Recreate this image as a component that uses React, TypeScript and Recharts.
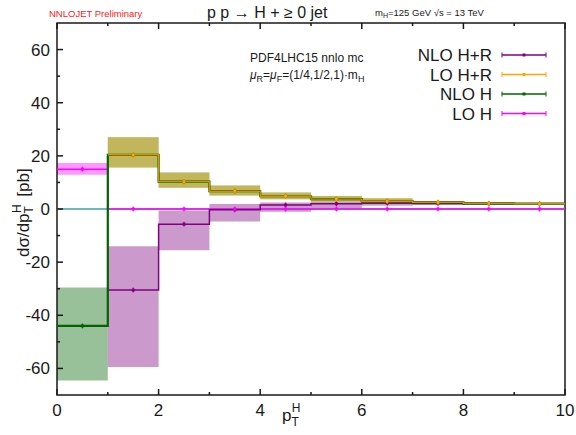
import React from 'react';
import {
  ComposedChart,
  Area,
  Line,
  Scatter,
  XAxis,
  YAxis,
  ReferenceLine,
  ReferenceArea,
} from 'recharts';

// bins in pT^H (GeV), width 1
const binEdges = [0, 1, 2, 3, 4, 5, 6, 7, 8, 9, 10];

// NLO H+R (purple)
const nloHR = [null, -30.5, -5.7, -0.3, 1.5, 2.0, 2.2, 2.1, 2.0, 2.0];
const nloHRLow = [null, -59.5, -15.5, -4.7, -1.0, 0.3, 1.2, 1.5, 1.6, 1.7];
const nloHRHigh = [null, -14.0, -0.6, 1.9, 2.4, 2.6, 2.6, 2.4, 2.3, 2.2];

// LO H+R (orange)
const loHR = [null, 20.4, 10.3, 6.7, 4.8, 3.7, 2.9, 2.5, 2.1, 2.0];
const loHRLow = [null, 15.6, 8.0, 5.1, 3.7, 2.7, 2.3, 2.0, 1.8, 1.7];
const loHRHigh = [null, 27.0, 13.7, 8.8, 6.2, 4.9, 4.0, 3.0, 2.5, 2.3];

// NLO H (green)
const nloH = [-44.0, 20.4, 10.3, 6.7, 4.8, 3.7, 2.9, 2.5, 2.1, 2.0];
const nloHLow = [-64.5, 15.6, 8.0, 5.1, 3.7, 2.7, 2.3, 2.0, 1.8, 1.7];
const nloHHigh = [-29.5, 27.0, 13.7, 8.8, 6.2, 4.9, 4.0, 3.0, 2.5, 2.3];

// LO H (magenta)
const loH = [15.0, 0, 0, 0, 0, 0, 0, 0, 0, 0];
const loHLow = [12.9, 0, 0, 0, 0, 0, 0, 0, 0, 0];
const loHHigh = [17.3, 0, 0, 0, 0, 0, 0, 0, 0, 0];

const xTicks = [0, 1, 2, 3, 4, 5, 6, 7, 8, 9, 10];
const yTicks = [-60, -50, -40, -30, -20, -10, 0, 10, 20, 30, 40, 50, 60];
const xRange = [0, 10];
const yRange = [-70, 70];

const PURPLE = '#800080';
const ORANGE = '#ffa500';
const GREEN = '#006400';
const MAGENTA = '#ff00ff';
const INK = '#1a1a1a';

const FONT = '"Liberation Sans", Arial, Helvetica, sans-serif';

const band = (v: number | null, lo: number | null, hi: number | null) =>
  v === null || lo === null || hi === null ? null : [lo, hi];

// step table: one row per bin edge, last row repeats the last bin
const table = binEdges.map((x, i) => {
  const j = Math.min(i, binEdges.length - 2);
  return {
    x,
    nloHR: nloHR[j],
    loHR: loHR[j],
    nloH: nloH[j],
    loH: loH[j],
    nloHRBand: band(nloHR[j], nloHRLow[j], nloHRHigh[j]),
    loHRBand: band(loHR[j], loHRLow[j], loHRHigh[j]),
    nloHBand: band(nloH[j], nloHLow[j], nloHHigh[j]),
    loHBand: band(loH[j], loHLow[j], loHHigh[j]),
  };
});

const centers = (vals: (number | null)[]) =>
  vals
    .map((y, i) => ({ x: binEdges[i] + 0.5, y }))
    .filter((d) => d.y !== null);

const Marker = (color: string) => (props: any) => {
  const { cx, cy } = props;
  if (cx == null || cy == null) return <g />;
  return (
    <g>
      <rect x={cx - 1.5} y={cy - 1.5} width={3} height={3} fill={color} />
      <line x1={cx} x2={cx} y1={cy - 2.5} y2={cy + 2.5} stroke={color} strokeWidth={1} />
    </g>
  );
};

const BottomTick = (props: any) => {
  const { x, y, payload } = props;
  const major = payload.value % 2 === 0;
  return (
    <g>
      <rect x={x - 0.75} y={y - (major ? 6 : 3)} width={1.5} height={major ? 6 : 3} fill={INK} />
      {major && (
        <text x={x} y={y + 21} textAnchor="middle" fontSize={17} fontFamily={FONT} fill={INK}>
          {payload.value}
        </text>
      )}
    </g>
  );
};

const TopTick = (props: any) => {
  const { x, y, payload } = props;
  const major = payload.value % 2 === 0;
  return <rect x={x - 0.75} y={y} width={1.5} height={major ? 6 : 3} fill={INK} />;
};

const LeftTick = (props: any) => {
  const { x, y, payload } = props;
  const major = payload.value % 20 === 0;
  return (
    <g>
      <rect x={x} y={y - 0.75} width={major ? 6 : 3} height={1.5} fill={INK} />
      {major && (
        <text x={x - 7} y={y + 6} textAnchor="end" fontSize={17} fontFamily={FONT} fill={INK}>
          {payload.value}
        </text>
      )}
    </g>
  );
};

const RightTick = (props: any) => {
  const { x, y, payload } = props;
  const major = payload.value % 20 === 0;
  return <rect x={x - (major ? 6 : 3)} y={y - 0.75} width={major ? 6 : 3} height={1.5} fill={INK} />;
};

const legendItems = [
  { label: 'NLO H+R', color: PURPLE },
  { label: 'LO H+R', color: ORANGE },
  { label: 'NLO H', color: GREEN },
  { label: 'LO H', color: MAGENTA },
];

export default function App() {
  return (
    <div style={{ position: 'absolute', left: 0, top: 0, width: 576, height: 435, background: '#fff' }}>
      <ComposedChart
        width={576}
        height={435}
        data={table}
        margin={{ top: 22, right: 10, bottom: 0, left: 0 }}
      >
        <XAxis
          xAxisId="b"
          dataKey="x"
          type="number"
          domain={xRange}
          ticks={xTicks}
          interval={0}
          tick={BottomTick}
          tickLine={false}
          tickSize={0}
          tickMargin={0}
          axisLine={false}
          height={40}
        />
        <XAxis
          xAxisId="t"
          orientation="top"
          dataKey="x"
          type="number"
          domain={xRange}
          ticks={xTicks}
          interval={0}
          tick={TopTick}
          tickLine={false}
          tickSize={0}
          tickMargin={0}
          axisLine={false}
          height={1}
        />
        <YAxis
          yAxisId="l"
          type="number"
          domain={yRange}
          ticks={yTicks}
          interval={0}
          tick={LeftTick}
          tickLine={false}
          tickSize={0}
          tickMargin={0}
          axisLine={false}
          width={57}
        />
        <YAxis
          yAxisId="r"
          orientation="right"
          type="number"
          domain={yRange}
          ticks={yTicks}
          interval={0}
          tick={RightTick}
          tickLine={false}
          tickSize={0}
          tickMargin={0}
          axisLine={false}
          width={1}
        />

        <ReferenceLine xAxisId="b" yAxisId="l" y={0} stroke="#3ca0a0" strokeWidth={1.5} />

        <Area xAxisId="b" yAxisId="l" type="stepAfter" dataKey="nloHRBand" stroke="none" fill={PURPLE} fillOpacity={0.4} isAnimationActive={false} />
        <Area xAxisId="b" yAxisId="l" type="stepAfter" dataKey="nloHBand" stroke="none" fill={GREEN} fillOpacity={0.4} isAnimationActive={false} />
        <Area xAxisId="b" yAxisId="l" type="stepAfter" dataKey="loHRBand" stroke="none" fill={ORANGE} fillOpacity={0.4} isAnimationActive={false} />
        <Area xAxisId="b" yAxisId="l" type="stepAfter" dataKey="loHBand" stroke="none" fill={MAGENTA} fillOpacity={0.4} isAnimationActive={false} />

        <Line xAxisId="b" yAxisId="l" type="stepAfter" dataKey="loH" stroke={MAGENTA} strokeWidth={1.5} dot={false} isAnimationActive={false} />
        <Line xAxisId="b" yAxisId="l" type="stepAfter" dataKey="nloHR" stroke={PURPLE} strokeWidth={1.5} dot={false} isAnimationActive={false} />
        <Line xAxisId="b" yAxisId="l" type="stepAfter" dataKey="nloH" stroke={GREEN} strokeWidth={2.2} dot={false} isAnimationActive={false} />
        <Line xAxisId="b" yAxisId="l" type="stepAfter" dataKey="loHR" stroke="#d89000" strokeWidth={1.4} dot={false} isAnimationActive={false} />

        <Scatter xAxisId="b" yAxisId="l" data={centers(nloHR)} dataKey="y" shape={Marker(PURPLE)} isAnimationActive={false} />
        <Scatter xAxisId="b" yAxisId="l" data={centers(nloH)} dataKey="y" shape={Marker(GREEN)} isAnimationActive={false} />
        <Scatter xAxisId="b" yAxisId="l" data={centers(loHR)} dataKey="y" shape={Marker(ORANGE)} isAnimationActive={false} />
        <Scatter xAxisId="b" yAxisId="l" data={centers(loH)} dataKey="y" shape={Marker(MAGENTA)} isAnimationActive={false} />

        {/* plot frame */}
        <ReferenceArea
          xAxisId="b"
          yAxisId="l"
          x1={xRange[0]}
          x2={xRange[1]}
          y1={yRange[0]}
          y2={yRange[1]}
          fill="none"
          stroke={INK}
          strokeWidth={1.5}
          ifOverflow="visible"
        />
      </ComposedChart>

      <svg width={576} height={435} style={{ position: 'absolute', left: 0, top: 0, pointerEvents: 'none' }}>
        <text x={49} y={17} fontSize={9.5} fontFamily={FONT} fill="#ff2020">NNLOJET Preliminary</text>
        <text x={207} y={18} fontSize={16} fontFamily={FONT} fill={INK}>p p → H + ≥ 0 jet</text>
        <text x={375} y={16} fontSize={9.5} fontFamily={FONT} fill={INK}>
          m<tspan fontSize={7} dy={2}>H</tspan>
          <tspan dy={-2}>=125 GeV √s  = 13 TeV</tspan>
        </text>
        <text x={250} y={62} fontSize={12} fontFamily={FONT} fill={INK}>PDF4LHC15 nnlo mc</text>
        <text x={250} y={79} fontSize={12} fontFamily={FONT} fill={INK}>
          <tspan fontStyle="italic">μ</tspan>
          <tspan fontSize={9} dy={3}>R</tspan>
          <tspan dy={-3}>=</tspan>
          <tspan fontStyle="italic">μ</tspan>
          <tspan fontSize={9} dy={3}>F</tspan>
          <tspan dy={-3}>=(1/4,1/2,1)·m</tspan>
          <tspan fontSize={9} dy={3}>H</tspan>
        </text>
        <text transform="translate(29,257) rotate(-90)" fontSize={17} fontFamily={FONT} fill={INK}>
          dσ/dp<tspan fontSize={12} dy={4}>T</tspan>
          <tspan fontSize={12} dx={-7} dy={-12}>H</tspan>
          <tspan dy={8} dx={3}> [pb]</tspan>
        </text>
        <text x={282} y={421} fontSize={17} fontFamily={FONT} fill={INK}>
          p<tspan fontSize={12} dy={5}>T</tspan>
          <tspan fontSize={12} dx={-7} dy={-14}>H</tspan>
        </text>
        {legendItems.map((it, i) => {
          const y = 55 + i * 19.5;
          return (
            <g key={it.label}>
              <text x={492} y={y + 6} textAnchor="end" fontSize={17} fontFamily={FONT} fill={INK}>
                {it.label}
              </text>
              <line x1={502} x2={546} y1={y} y2={y} stroke={it.color} strokeWidth={1.5} />
              <line x1={502} x2={502} y1={y - 2.5} y2={y + 2.5} stroke={it.color} strokeWidth={1} />
              <line x1={546} x2={546} y1={y - 2.5} y2={y + 2.5} stroke={it.color} strokeWidth={1} />
              <rect x={522.5} y={y - 1.5} width={3} height={3} fill={it.color} />
            </g>
          );
        })}
      </svg>
    </div>
  );
}
